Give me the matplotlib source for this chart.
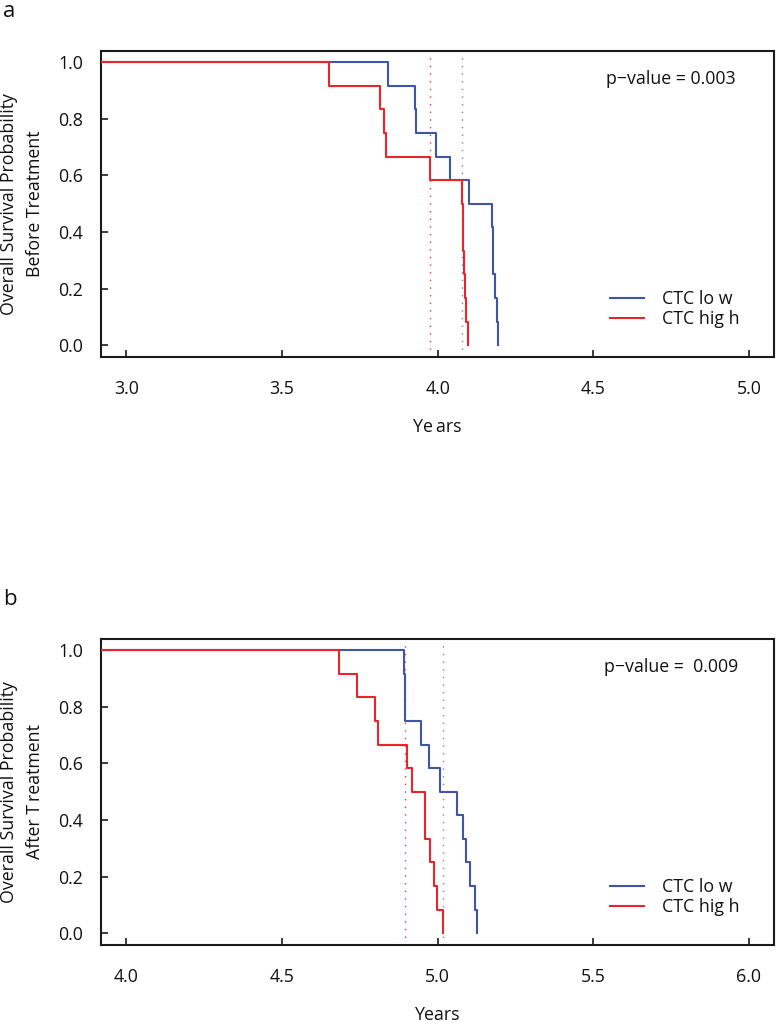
import matplotlib
matplotlib.use("Agg")
import matplotlib.pyplot as plt
import numpy as np
from matplotlib.font_manager import FontProperties
from matplotlib.textpath import TextPath

# ---------------- data ----------------
group_labels = ["CTC lo w", "CTC hig h"]

# event times (years), 12 patients per group, no censoring
a_low_times = [3.842, 3.926, 3.931, 3.996, 4.041, 4.102, 4.176, 4.179, 4.179, 4.184, 4.190, 4.193]
a_high_times = [3.651, 3.816, 3.829, 3.835, 3.975, 4.079, 4.082, 4.083, 4.085, 4.087, 4.090, 4.098]
b_low_times = [4.892, 4.894, 4.896, 4.946, 4.972, 5.008, 5.061, 5.081, 5.091, 5.104, 5.120, 5.126]
b_high_times = [4.683, 4.741, 4.799, 4.808, 4.901, 4.917, 4.9595, 4.9605, 4.976, 4.988, 4.997, 5.018]

# dotted reference lines (years)
a_ref_low, a_ref_high = 4.078, 3.977
b_ref_low, b_ref_high = 5.016, 4.895

a_pvalue = "p\u2212value = 0.003"
b_pvalue = "p\u2212value =  0.009"
pvalue_pos_a = (4.75, 0.9406)
pvalue_pos_b = (5.75, 0.9406)

a_ylabel = "Overall Survival Probability\nBefore Treatment"
b_ylabel = "Overall Survival Probability\nAfter T\u2009reatment"
a_xlabel = "Ye\u2009ars"
b_xlabel = "Years"

a_xticks = [3.0, 3.5, 4.0, 4.5, 5.0]
b_xticks = [4.0, 4.5, 5.0, 5.5, 6.0]
a_xlim = (2.92, 5.08)
b_xlim = (3.92, 6.08)
y_ticks = [0.0, 0.2, 0.4, 0.6, 0.8, 1.0]
ylim = (-0.04, 1.04)

# ---------------- style ----------------
FAMILY = ["Open Sans", "DejaVu Sans"]
plt.rcParams["font.family"] = FAMILY
DPI = 100
W, H = 777, 1026
BLUE = "#3F55A5"
RED = "#E6262B"
BLUE_DOT = "#7C84AC"
RED_DOT = "#E8393C"
SPINE = "#1A1A1A"
TXT = "#111111"


def fit_size(text, target_px):
    tp = TextPath((0, 0), text, size=100, prop=FontProperties(family=FAMILY[0]))
    w = tp.get_extents().width
    return 100.0 * target_px * 72.0 / (DPI * w)


BASE = fit_size("Overall Survival Probability", 220)
base_px = BASE * DPI / 72.0


def km_steps(times):
    t = np.sort(np.asarray(times, dtype=float))
    n = len(t)
    uniq, counts = np.unique(t, return_counts=True)
    surv = 1.0 - np.cumsum(counts) / n
    x = np.concatenate([[0.0], uniq])
    y = np.concatenate([[1.0], surv])
    return x, y


fig = plt.figure(figsize=(W / DPI, H / DPI), dpi=DPI)

ax_left = 101.3 / W
ax_w = 672.6 / W
ax_h = 305.5 / H
ax_a = fig.add_axes([ax_left, (H - 356.5) / H, ax_w, ax_h])
ax_b = fig.add_axes([ax_left, (H - 944.5) / H, ax_w, ax_h])

panels = [
    (ax_a, a_low_times, a_high_times, a_ref_low, a_ref_high, a_pvalue, pvalue_pos_a,
     a_ylabel, a_xlabel, a_xticks, a_xlim),
    (ax_b, b_low_times, b_high_times, b_ref_low, b_ref_high, b_pvalue, pvalue_pos_b,
     b_ylabel, b_xlabel, b_xticks, b_xlim),
]

legend_red_px = 37.0
legend_pitch_px = 20.0

for (ax, low, high, ref_low, ref_high, ptxt, ppos, ylab, xlab, xt, xl) in panels:
    xl_, yl_ = km_steps(low)
    xh_, yh_ = km_steps(high)
    ax.axvline(ref_high, color=RED_DOT, lw=1.0, dashes=(1.0, 4.5), zorder=1)
    ax.axvline(ref_low, color=BLUE_DOT, lw=1.0, dashes=(1.0, 4.5), zorder=1)
    ax.step(xl_, yl_, where="post", color=BLUE, lw=1.5, label=group_labels[0], zorder=2)
    ax.step(xh_, yh_, where="post", color=RED, lw=1.5, label=group_labels[1], zorder=3)

    ax.set_xlim(*xl)
    ax.set_ylim(*ylim)
    ax.set_xticks(xt)
    ax.set_xticklabels([f"{v:.1f}" for v in xt])
    ax.set_yticks(y_ticks)
    ax.set_yticklabels([f"{v:.1f}" for v in y_ticks])
    ax.tick_params(axis="both", direction="in", length=5, width=1.2, color=SPINE,
                   labelsize=BASE, labelcolor=TXT)
    ax.tick_params(axis="x", pad=17.2)
    ax.tick_params(axis="y", pad=13.2)
    for s in ax.spines.values():
        s.set_linewidth(1.5)
        s.set_color(SPINE)

    ax.set_ylabel(ylab, fontsize=BASE, va="center", ha="center", linespacing=1.6,
                  color=TXT)
    ax.yaxis.set_label_coords(-0.1183, 0.5)
    ax.set_xlabel(xlab, fontsize=BASE, va="center", color=TXT)
    ax.xaxis.set_label_coords(0.5, -71.0 / 305.5)

    ax.text(ppos[0], ppos[1], ptxt, fontsize=BASE, ha="center", va="center", color=TXT)

    leg_bottom = (legend_red_px - base_px / 2.0) / 305.5
    leg = ax.legend(loc="lower left", bbox_to_anchor=((610 - 101.3) / 672.6, leg_bottom),
                    frameon=False, fontsize=BASE, borderpad=0, borderaxespad=0,
                    handlelength=24.5 / BASE, handletextpad=12.7 / BASE,
                    labelspacing=(legend_pitch_px - base_px) / base_px)
    for t in leg.get_texts():
        t.set_color(TXT)

fig.text(3 / W, 1 - 16.7 / H, "a", fontsize=16, ha="left", va="baseline", color=TXT)
fig.text(3 / W, 1 - 605 / H, "b", fontsize=16, ha="left", va="baseline", color=TXT)

fig.savefig("out.png", dpi=DPI)
